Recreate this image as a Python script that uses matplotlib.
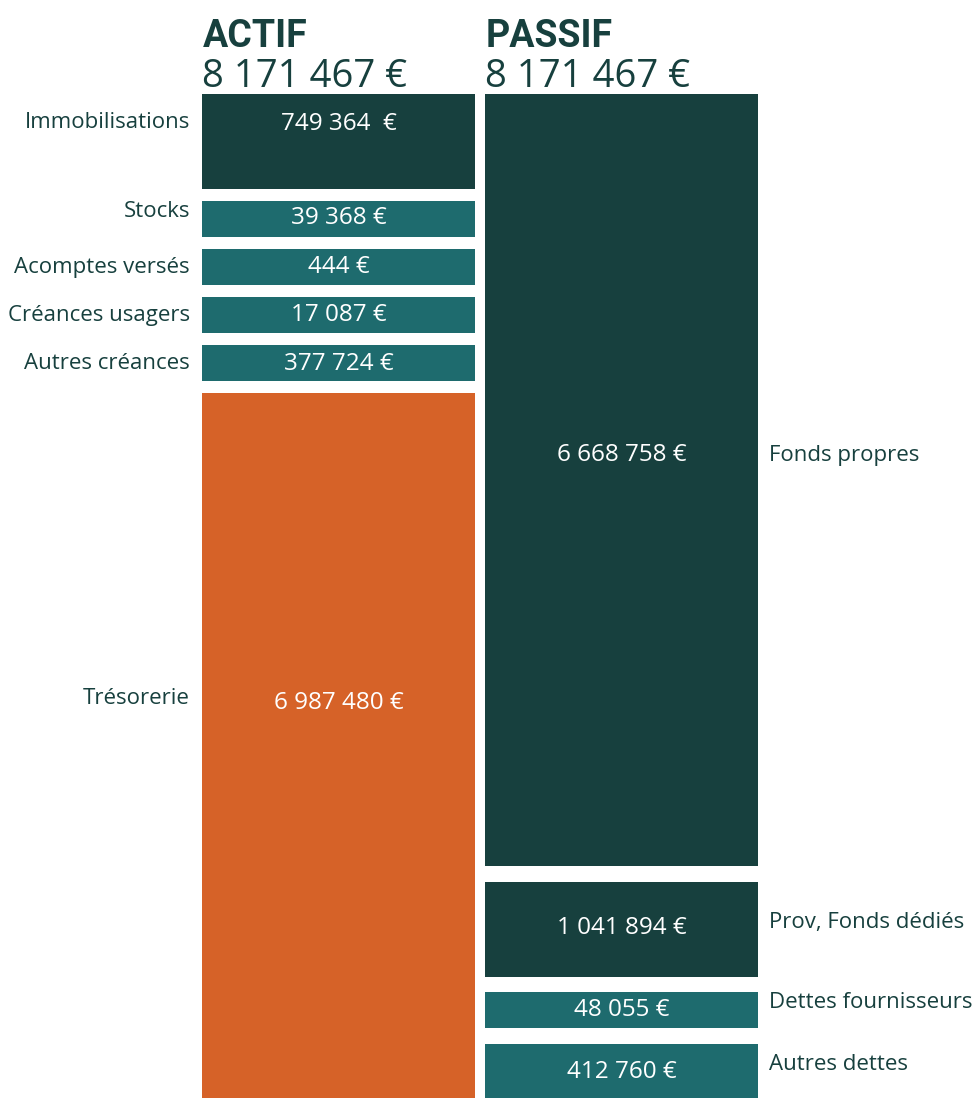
import matplotlib
matplotlib.use("Agg")
import matplotlib.pyplot as plt
import numpy as np

# ---- data ----
actif_labels = ["Immobilisations", "Stocks", "Acomptes versés", "Créances usagers",
                "Autres créances", "Trésorerie"]
actif_values = ["749 364  €", "39 368 €", "444 €", "17 087 €", "377 724 €", "6 987 480 €"]
actif_blocks = [95, 36, 36, 36, 36, 705]          # displayed block heights (not proportional)
actif_kind = ["dark", "teal", "teal", "teal", "teal", "orange"]

passif_labels = ["Fonds propres", "Prov, Fonds dédiés", "Dettes fournisseurs", "Autres dettes"]
passif_values = ["6 668 758 €", "1 041 894 €", "48 055 €", "412 760 €"]
passif_blocks = [772, 95, 36, 54]
passif_kind = ["dark", "dark", "teal", "teal"]

titles = ["ACTIF", "PASSIF"]
totals = ["8 171 467 €", "8 171 467 €"]

# ---- style ----
COL = {"dark": "#17403E", "teal": "#1E6B6E", "orange": "#D66228"}
TXT = "#17403E"
FONT = "Open Sans"
FS_LAB = 16
FS_VAL = 17.5

W, H = 974, 1098
fig = plt.figure(figsize=(W / 100, H / 100), dpi=100)
ax = fig.add_axes([0, 0, 1, 1])
ax.set_xlim(0, W)
ax.set_ylim(H, 0)
ax.axis("off")

col_x = [338.5, 621.5]
bar_w = 273
top0 = 94
gaps = [12, 15.5]

def draw_column(i, labels, values, blocks, kinds, label_side, label_dy):
    tops = top0 + np.concatenate([[0], np.cumsum(np.array(blocks[:-1]) + gaps[i])])
    ax.bar([col_x[i]] * len(blocks), blocks, bottom=tops, width=bar_w,
           color=[COL[k] for k in kinds], align="center", linewidth=0)
    for j, (lab, val, t, h) in enumerate(zip(labels, values, tops, blocks)):
        c = t + h / 2
        vy = c + label_dy[j][0]
        ly = c + label_dy[j][1]
        ax.text(col_x[i], vy, val, ha="center", va="center", color="white",
                fontsize=FS_VAL, family=FONT)
        if label_side == "left":
            ax.text(190, ly, lab, ha="right", va="center", color=TXT,
                    fontsize=FS_LAB, family=FONT)
        else:
            ax.text(769, ly, lab, ha="left", va="center", color=TXT,
                    fontsize=FS_LAB, family=FONT)
    return tops

# offsets (value, label) relative to block centre, in px
actif_dy = [(-17, -19.5), (-0.5, -7.5), (0, 0.5), (0, 0.5), (0.5, 0.5), (-42.5, -47.5)]
passif_dy = [(-25, -24.5), (-1, -6.5), (0.5, -7.5), (2, -6.5)]

draw_column(0, actif_labels, actif_values, actif_blocks, actif_kind, "left", actif_dy)
draw_column(1, passif_labels, passif_values, passif_blocks, passif_kind, "right", passif_dy)

for i in range(2):
    x0 = col_x[i] - bar_w / 2
    ax.text(x0 + 1, 47, titles[i], ha="left", va="baseline", color=TXT,
            fontsize=27, family="Roboto", fontweight="bold")
    ax.text(x0, 87, totals[i], ha="left", va="baseline", color=TXT,
            fontsize=27.5, family=FONT)

fig.savefig("out.png", dpi=100)
